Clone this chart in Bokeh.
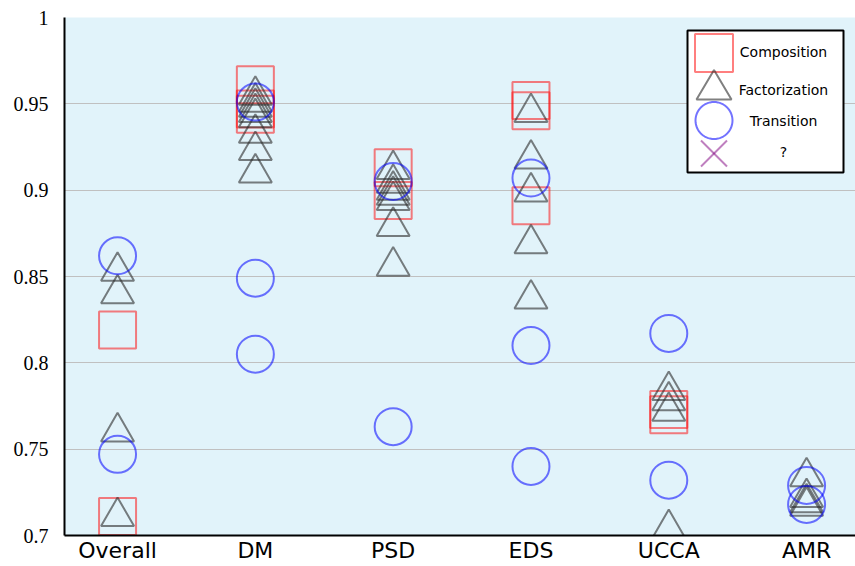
import numpy as np
from bokeh.plotting import figure
from bokeh.models import Range1d, FixedTicker, Label, PolyAnnotation, BoxAnnotation
from bokeh.embed import file_html
from bokeh.resources import INLINE

# ---------------- data ----------------
categories = ["Overall", "DM", "PSD", "EDS", "UCCA", "AMR"]

composition = [
    [0.819, 0.711],
    [0.961, 0.947, 0.944],
    [0.913, 0.894],
    [0.952, 0.946, 0.891],
    [0.773, 0.770],
    [],
]
factorization = [
    [0.853, 0.840, 0.760, 0.711],
    [0.955, 0.951, 0.948, 0.945, 0.942, 0.933, 0.923, 0.910],
    [0.912, 0.904, 0.900, 0.897, 0.894, 0.879, 0.856],
    [0.945, 0.918, 0.899, 0.869, 0.837],
    [0.784, 0.778, 0.772, 0.704],
    [0.734, 0.722, 0.719, 0.717],
]
transition = [
    [0.862, 0.747],
    [0.951, 0.849, 0.805],
    [0.905, 0.763],
    [0.907, 0.810, 0.740],
    [0.817, 0.732],
    [0.729, 0.718],
]
unknown = [[], [], [], [], [], []]

y_ticks = [0.7, 0.75, 0.8, 0.85, 0.9, 0.95, 1.0]
y_tick_labels = ["0.7", "0.75", "0.8", "0.85", "0.9", "0.95", "1"]

legend_labels = ["Composition", "Factorization", "Transition", "?"]


def flatten(series):
    xs, ys = [], []
    for i, vals in enumerate(series):
        for v in vals:
            xs.append(i)
            ys.append(v)
    return xs, ys


# ---------------- figure ----------------
p = figure(width=855, height=566,
           x_range=Range1d(-0.385, 5.355), y_range=Range1d(0.7, 1.0),
           output_backend="svg", toolbar_location=None,
           min_border_left=64, min_border_right=0,
           min_border_top=17, min_border_bottom=31)

p.background_fill_color = "#e1f3fa"
p.border_fill_color = "white"
p.outline_line_color = None

p.xaxis.ticker = FixedTicker(ticks=list(range(len(categories))))
p.xaxis.major_label_overrides = {i: c for i, c in enumerate(categories)}
p.yaxis.ticker = FixedTicker(ticks=y_ticks)
p.yaxis.major_label_overrides = {t: l for t, l in zip(y_ticks, y_tick_labels)}

for ax in (p.xaxis, p.yaxis):
    ax.axis_line_color = "black"
    ax.axis_line_width = 2
    ax.major_tick_line_color = None
    ax.minor_tick_line_color = None
    ax.major_label_text_color = "black"

p.xaxis.major_label_text_font = "DejaVu Sans"
p.xaxis.major_label_text_font_size = "22px"
p.xaxis.major_label_standoff = -4
p.yaxis.major_label_text_font = "Liberation Serif"
p.yaxis.major_label_text_font_size = "20px"
p.yaxis.major_label_standoff = 10

p.xgrid.grid_line_color = None
p.ygrid.ticker = FixedTicker(ticks=y_ticks)
p.ygrid.grid_line_color = "#c0c0c0"
p.ygrid.grid_line_width = 1

red = "#ff0000"
gray = "#2b2b2b"
blue = "#0000ff"
purple = "#800080"

x, y = flatten(composition)
p.scatter(x, y, marker="square", size=37, fill_color=None,
          line_color=red, line_alpha=0.5, line_width=2)
x, y = flatten(factorization)
p.scatter(x, y, marker="triangle", size=33, fill_color=None,
          line_color=gray, line_alpha=0.6, line_width=2)
x, y = flatten(transition)
p.scatter(x, y, marker="circle", size=37, fill_color=None,
          line_color=blue, line_alpha=0.55, line_width=2)
x, y = flatten(unknown)
p.scatter(x, y, marker="x", size=30, line_color=purple, line_alpha=0.5, line_width=2)

# ---------------- legend (frame-relative screen units, y up from bottom) ----------------
p.add_layout(BoxAnnotation(left=623, right=779, top=505, bottom=363,
                           left_units="screen", right_units="screen",
                           top_units="screen", bottom_units="screen",
                           fill_color="white", fill_alpha=1.0,
                           line_color="black", line_width=2, line_alpha=1.0))

cx = 649.5
# square
p.add_layout(PolyAnnotation(xs=[cx - 19, cx + 19, cx + 19, cx - 19],
                            ys=[463.5, 463.5, 501.5, 501.5],
                            xs_units="screen", ys_units="screen",
                            fill_color=None, fill_alpha=0,
                            line_color=red, line_alpha=0.5, line_width=2))
# triangle
p.add_layout(PolyAnnotation(xs=[cx - 17.5, cx + 17.5, cx], ys=[436, 436, 465.5],
                            xs_units="screen", ys_units="screen",
                            fill_color=None, fill_alpha=0,
                            line_color=gray, line_alpha=0.6, line_width=2))
# circle
th = np.linspace(0, 2 * np.pi, 60, endpoint=False)
p.add_layout(PolyAnnotation(xs=list(cx + 18.5 * np.cos(th)), ys=list(415 + 18.5 * np.sin(th)),
                            xs_units="screen", ys_units="screen",
                            fill_color=None, fill_alpha=0,
                            line_color=blue, line_alpha=0.55, line_width=2))
# cross
for dx in (1, -1):
    p.add_layout(PolyAnnotation(xs=[cx - 13 * dx, cx + 13 * dx], ys=[395, 369],
                                xs_units="screen", ys_units="screen",
                                fill_color=None, fill_alpha=0,
                                line_color=purple, line_alpha=0.5, line_width=2))

for lbl, ly in zip(legend_labels, [483.5, 445.5, 415, 383.5]):
    p.add_layout(Label(x=719, y=ly, x_units="screen", y_units="screen", text=lbl,
                       text_align="center", text_baseline="middle",
                       text_font="DejaVu Sans", text_font_size="14px", text_color="black"))

open("out.html", "w").write(file_html(p, INLINE))
